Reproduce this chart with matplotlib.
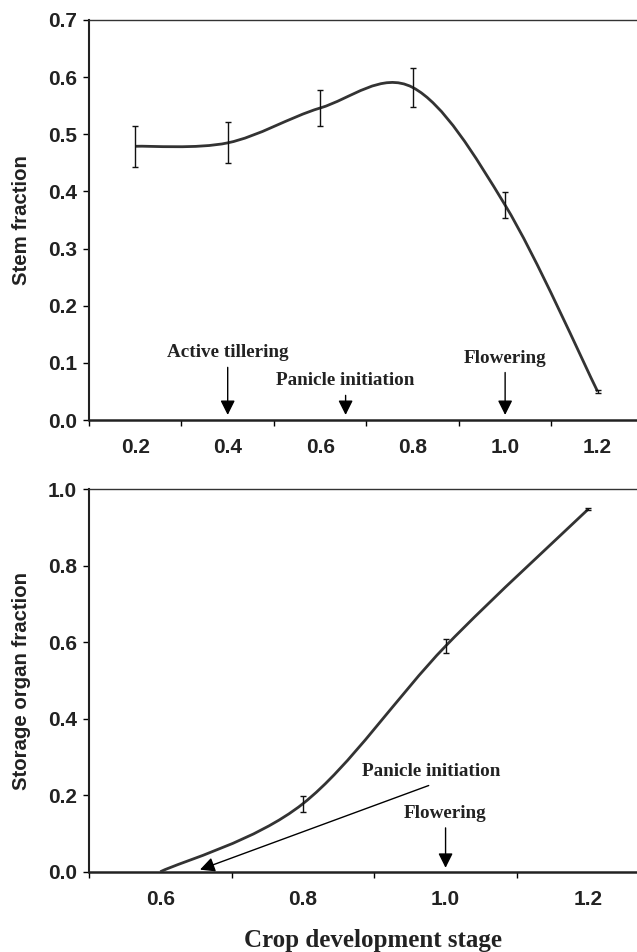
import numpy as np
import matplotlib
matplotlib.use("Agg")
import matplotlib.pyplot as plt
from matplotlib.path import Path
from matplotlib.patches import PathPatch

# datos
stage_top = [0.2, 0.4, 0.6, 0.8, 1.0, 1.2]
stem = [0.479, 0.485, 0.546, 0.582, 0.376, 0.050]
stem_err = [0.036, 0.036, 0.032, 0.034, 0.023, 0.003]

stage_bot = [0.6, 0.8, 1.0, 1.2]
storage = [0.0, 0.178, 0.590, 0.948]
storage_err = [0.0, 0.021, 0.018, 0.002]

top_yticks = [0.0, 0.1, 0.2, 0.3, 0.4, 0.5, 0.6, 0.7]
bot_yticks = [0.0, 0.2, 0.4, 0.6, 0.8, 1.0]
top_xlabels = [0.2, 0.4, 0.6, 0.8, 1.0, 1.2]
bot_xlabels = [0.6, 0.8, 1.0, 1.2]

line_col = '#333333'
sans = 'Liberation Sans'
serif = 'Liberation Serif'
tick_fs = 15
note_fs = 13.8


def smooth_line(ax, x, y):
    # curva suavizada tipo Excel (bezier por los puntos)
    p = np.column_stack([x, y])
    n = len(p)
    verts = [p[0]]
    codes = [Path.MOVETO]
    for i in range(n - 1):
        p0 = p[max(i - 1, 0)]
        p3 = p[min(i + 2, n - 1)]
        c1 = p[i] + (p[i + 1] - p0) / 6.0
        c2 = p[i + 1] - (p3 - p[i]) / 6.0
        verts += [c1, c2, p[i + 1]]
        codes += [Path.CURVE4] * 3
    ax.add_patch(PathPatch(Path(verts, codes), fc='none', ec=line_col, lw=2.0, zorder=3))


def style_axes(ax, xlim, ylim, yticks, xlabels):
    ax.set_xlim(*xlim)
    ax.set_ylim(*ylim)
    ax.spines['right'].set_visible(False)
    ax.spines['top'].set_linewidth(1.0)
    ax.spines['top'].set_color('#333333')
    ax.spines['left'].set_linewidth(1.5)
    ax.spines['bottom'].set_linewidth(1.8)
    for s in ['left', 'bottom']:
        ax.spines[s].set_color('#222222')
    ax.set_yticks(yticks)
    ax.set_yticklabels(['%.1f' % v for v in yticks], fontsize=tick_fs,
                       fontweight='bold', family=sans, color='#222222')
    major = np.arange(xlim[0], xlim[1], 0.2)
    ax.set_xticks(major)
    ax.set_xticklabels([''] * len(major))
    ax.set_xticks(xlabels, minor=True)
    ax.set_xticklabels(['%.1f' % v for v in xlabels], minor=True, fontsize=tick_fs,
                       fontweight='bold', family=sans, color='#222222')
    ax.tick_params(axis='y', direction='out', length=4.5, width=1.0, pad=4)
    ax.tick_params(axis='x', which='major', direction='out', length=4.5, width=1.0)
    ax.tick_params(axis='x', which='minor', length=0, pad=13)


fig = plt.figure(figsize=(6.37, 9.52), dpi=100)

arr = dict(arrowstyle='-|>', color='black', lw=1.0, mutation_scale=22)

# panel superior
ax1 = fig.add_axes([0.1397, 0.5588, 0.8587, 0.4202])
ax1.errorbar(stage_top, stem, yerr=stem_err, fmt='none', ecolor='#111111',
             elinewidth=1.0, capsize=2.5, capthick=1.0, zorder=4)
smooth_line(ax1, stage_top, stem)
style_axes(ax1, (0.1, 1.283), (0.0, 0.7), top_yticks, top_xlabels)
ax1.set_ylabel('Stem fraction', fontsize=14.7, fontweight='bold', family=sans,
               color='#222222', labelpad=12)

ax1.annotate('', xy=(0.4, 0.004), xytext=(0.4, 0.097), arrowprops=arr)
ax1.text(0.4, 0.119, 'Active tillering', ha='center', va='center', fontsize=note_fs,
         fontweight='bold', family=serif, color='#222222')
ax1.annotate('', xy=(0.655, 0.004), xytext=(0.655, 0.048), arrowprops=arr)
ax1.text(0.655, 0.07, 'Panicle initiation', ha='center', va='center', fontsize=note_fs,
         fontweight='bold', family=serif, color='#222222')
ax1.annotate('', xy=(1.0, 0.004), xytext=(1.0, 0.088), arrowprops=arr)
ax1.text(1.0, 0.108, 'Flowering', ha='center', va='center', fontsize=note_fs,
         fontweight='bold', family=serif, color='#222222')

# panel inferior
ax2 = fig.add_axes([0.1397, 0.0843, 0.8587, 0.4017])
ax2.errorbar(stage_bot[1:], storage[1:], yerr=storage_err[1:], fmt='none',
             ecolor='#111111', elinewidth=1.0, capsize=2.5, capthick=1.0, zorder=4)
smooth_line(ax2, stage_bot, storage)
style_axes(ax2, (0.5, 1.267), (0.0, 1.0), bot_yticks, bot_xlabels)
ax2.set_ylabel('Storage organ fraction', fontsize=14.7, fontweight='bold', family=sans,
               color='#222222', labelpad=12)

ax2.annotate('', xy=(0.652, 0.003), xytext=(0.98, 0.228), arrowprops=arr)
ax2.text(0.98, 0.262, 'Panicle initiation', ha='center', va='center', fontsize=note_fs,
         fontweight='bold', family=serif, color='#222222')
ax2.annotate('', xy=(1.0, 0.003), xytext=(1.0, 0.122), arrowprops=arr)
ax2.text(1.0, 0.153, 'Flowering', ha='center', va='center', fontsize=note_fs,
         fontweight='bold', family=serif, color='#222222')

fig.text(373 / 637, 1 - 941 / 952, 'Crop development stage', ha='center', va='center',
         fontsize=18, fontweight='bold', family=serif, color='#222222')

fig.savefig('out.png', dpi=100)
